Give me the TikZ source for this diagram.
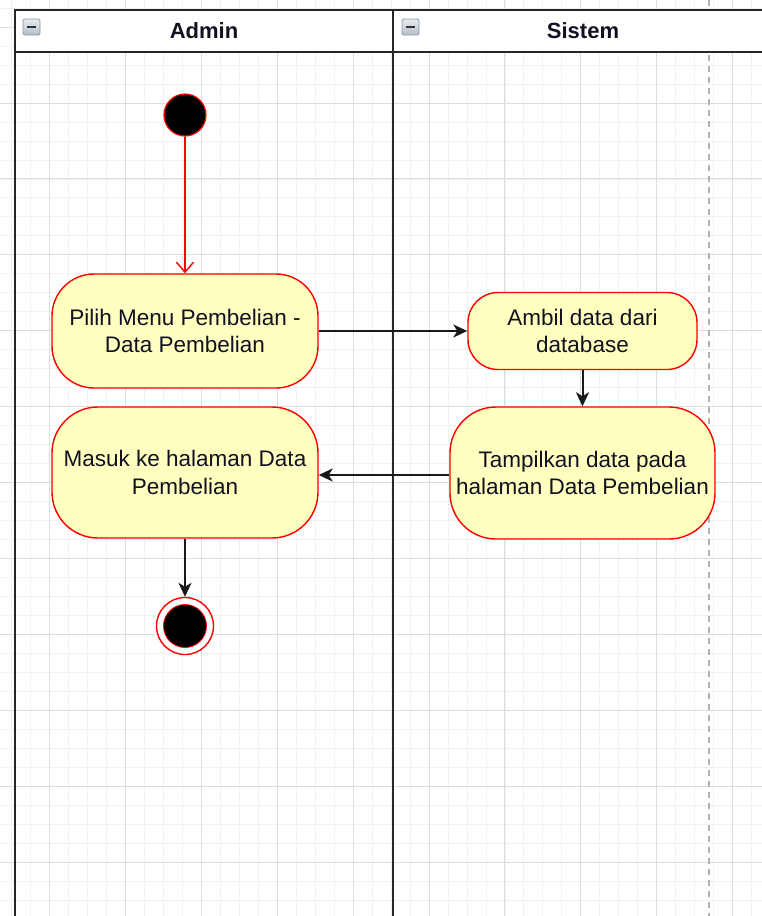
\documentclass[tikz,border=0pt]{standalone}
\usepackage{fontspec}
\setmainfont{Liberation Sans}
\usetikzlibrary{arrows.meta}
\definecolor{actfill}{HTML}{FFFFC0}
\definecolor{actred}{HTML}{FF0000}
\definecolor{gridminor}{HTML}{F1F1F1}
\definecolor{gridmajor}{HTML}{DDDDDD}
\definecolor{iconedge}{HTML}{8A98A6}
\definecolor{icontop}{HTML}{E8ECF0}
\definecolor{iconbot}{HTML}{B4BEC8}
\definecolor{txt}{HTML}{111122}
\tikzset{
  minorline/.style={gridminor, line width=0.8pt},
  majorline/.style={gridmajor, line width=1pt},
  lanebord/.style={black!85, line width=2pt},
  act/.style={draw=actred, fill=actfill, line width=1.4pt, align=center,
    text=txt, font=\fontsize{22.5}{27.5}\selectfont, inner sep=0pt},
  arr/.style={black!90, line width=2pt, -{Stealth[length=14pt,width=13pt,inset=4pt]}},
  redarr/.style={actred, line width=1.4pt, -{Straight Barb[length=10pt,width=17pt]}},
  lanetitle/.style={font=\fontsize{22}{26}\selectfont\bfseries, text=txt},
  colicon/.style={draw=iconedge, line width=0.8pt, rounded corners=1.5pt,
    top color=icontop, bottom color=iconbot}
}
\begin{document}
\begin{tikzpicture}[x=1pt,y=-1pt]
\useasboundingbox (0,0) rectangle (762,916);
\fill[white] (0,0) rectangle (762,916);
\clip (0,0) rectangle (762,916);
% grid
\foreach \i in {-3,...,38} {
  \pgfmathsetmacro\xx{49.5+18.975*\i}
  \draw[minorline] (\xx,0) -- (\xx,916);
}
\foreach \i in {-6,...,43} {
  \pgfmathsetmacro\yy{103+18.975*\i}
  \draw[minorline] (0,\yy) -- (762,\yy);
}
\foreach \i in {-1,...,10} {
  \pgfmathsetmacro\xx{49.5+75.9*\i}
  \draw[majorline] (\xx,0) -- (\xx,916);
}
\foreach \i in {-2,...,11} {
  \pgfmathsetmacro\yy{103+75.9*\i}
  \draw[majorline] (0,\yy) -- (762,\yy);
}
% page break line
\draw[black!30, line width=1.2pt, dash pattern=on 6pt off 5pt] (709,0) -- (709,916);
% pool header
\fill[white] (15,10) rectangle (775,52);
\draw[lanebord] (775,10) -- (15,10) -- (15,916);
\draw[lanebord] (15,52) -- (775,52);
\draw[lanebord] (393,10) -- (393,916);
\node[lanetitle] (tadmin) at (204,31) {Admin};
\node[lanetitle] (tsistem) at (583,31) {Sistem};
% collapse icons
\draw[colicon] (23,19) rectangle (40,35);
\draw[black!80, line width=1.4pt] (27,27) -- (36,27);
\draw[colicon] (402,19) rectangle (419,35);
\draw[black!80, line width=1.4pt] (406,27) -- (415,27);
% start
\node[circle, draw=actred, fill=black, line width=1.2pt, minimum size=42pt, inner sep=0pt] (start) at (185,115) {};
% activities
\node[act, minimum width=266pt, minimum height=114pt, rounded corners=42pt] (n1) at (185,331)
  {Pilih Menu Pembelian -\\Data Pembelian};
\node[act, minimum width=266pt, minimum height=131pt, rounded corners=46pt] (n2) at (185,472.5)
  {Masuk ke halaman Data\\Pembelian};
\node[act, minimum width=229pt, minimum height=77pt, rounded corners=30pt] (n3) at (582.5,331)
  {Ambil data dari\\database};
\node[act, minimum width=265pt, minimum height=132pt, rounded corners=46pt] (n4) at (582.5,473)
  {Tampilkan data pada\\halaman Data Pembelian};
% end
\node[circle, draw=actred, fill=white, line width=1.4pt, minimum size=57pt, inner sep=0pt] (end) at (185,626) {};
\node[circle, draw=actred, fill=black, line width=0.8pt, minimum size=43pt, inner sep=0pt] (endin) at (185,626) {};
% connectors
\draw[redarr] (start) -- (n1.north);
\draw[arr] (n1.east) -- (n3.west);
\draw[arr] (n3.south) -- (n4.north);
\draw[arr] (n4.west |- 0,475) -- (n2.east |- 0,475);
\draw[arr] (n2.south) -- (end.north);
\end{tikzpicture}
\end{document}
